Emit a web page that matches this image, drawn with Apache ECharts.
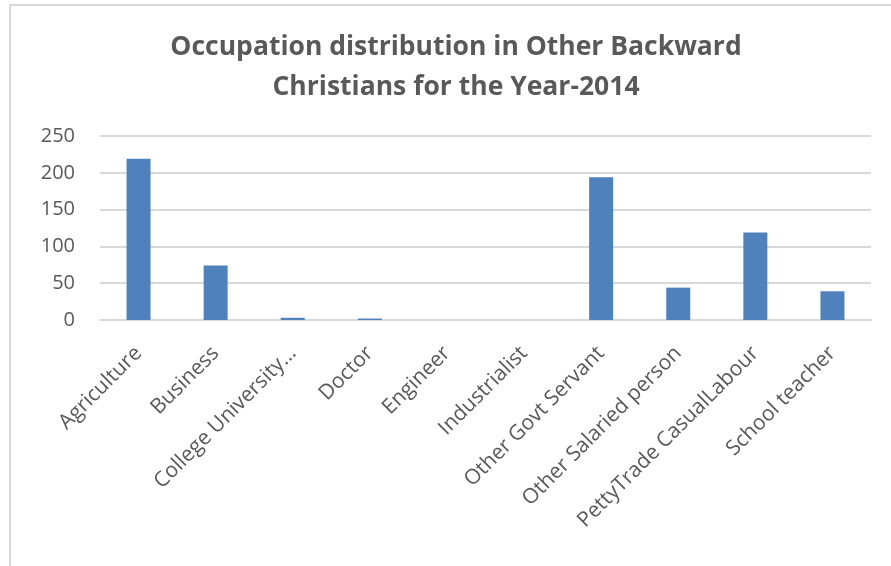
<!DOCTYPE html>
<html>
<head>
<meta charset="utf-8">
<script src="https://cdn.jsdelivr.net/npm/echarts@6/dist/echarts.min.js"></script>
<style>
  html, body { margin: 0; padding: 0; background: #fff; }
  #chart { width: 891px; height: 566px; }
</style>
</head>
<body>
<div id="chart"></div>
<script>
// Occupation categories along the x axis
const categories = [
  'Agriculture', 'Business', 'College University\u2026', 'Doctor', 'Engineer',
  'Industrialist', 'Other Govt Servant', 'Other Salaried person',
  'PettyTrade CasualLabour', 'School teacher'
];
// Number of persons per occupation
const counts = [219, 74, 3, 2, 0, 0, 194, 44, 119, 39];
// Value axis ticks
const yTicks = [0, 50, 100, 150, 200, 250];

const titleLines = ['Occupation distribution in Other Backward', 'Christians for the Year-2014'];

const chart = echarts.init(document.getElementById('chart'), null, { renderer: 'canvas' });

chart.setOption({
  backgroundColor: '#ffffff',
  animation: false,
  title: {
    text: titleLines.join('\n'),
    left: 451,
    textAlign: 'center',
    top: 22,
    textStyle: {
      fontFamily: 'Open Sans',
      fontWeight: 'bold',
      fontSize: 26.5,
      color: '#595959',
      lineHeight: 40
    }
  },
  graphic: [
    {
      type: 'polyline',
      shape: { points: [[10, 566], [10, 5], [891, 5]] },
      style: { stroke: '#d9d9d9', lineWidth: 2, fill: null },
      silent: true
    }
  ],
  grid: { left: 100, right: 20, top: 136, bottom: 246 },
  xAxis: {
    type: 'category',
    data: categories,
    axisLine: { lineStyle: { color: '#d9d9d9', width: 2 } },
    axisTick: { show: false },
    axisLabel: {
      rotate: 45,
      interval: 0,
      margin: 30,
      fontFamily: 'Open Sans',
      fontSize: 21,
      color: '#595959'
    }
  },
  yAxis: {
    type: 'value',
    min: yTicks[0],
    max: yTicks[yTicks.length - 1],
    interval: yTicks[1] - yTicks[0],
    axisLine: { show: false },
    axisTick: { show: false },
    splitLine: { lineStyle: { color: '#d9d9d9', width: 2 } },
    axisLabel: {
      margin: 25,
      fontFamily: 'Open Sans',
      fontSize: 20,
      color: '#595959'
    }
  },
  series: [
    {
      type: 'bar',
      data: counts,
      barWidth: 24,
      itemStyle: { color: '#4f81bd' }
    }
  ]
});
</script>
</body>
</html>
